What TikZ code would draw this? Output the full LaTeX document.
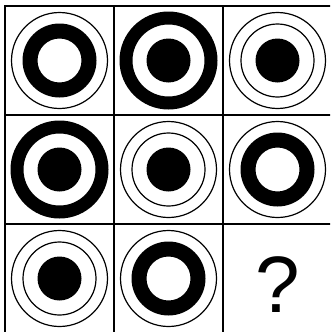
\documentclass[tikz,border=0pt]{standalone}
\usepackage{fontspec}
\setmainfont{Liberation Sans}
\usetikzlibrary{positioning}
\definecolor{inkline}{HTML}{000000}
\definecolor{inkfill}{HTML}{000000}
\tikzset{
  gridline/.style={draw=inkline, line width=1.3pt},
  thinring/.style={draw=inkline, line width=1.2pt},
  bandfill/.style={fill=inkfill, even odd rule}
}
% thin outer circle, thick band, empty centre
\newcommand{\ringcell}[3]{%
  \coordinate (#1) at (#2,#3);
  \draw[thinring] (#1) circle[radius=48pt];
  \fill[bandfill] (#1) circle[radius=37pt] (#1) circle[radius=22pt];}
% thick outer band and a centre dot
\newcommand{\bullcell}[3]{%
  \coordinate (#1) at (#2,#3);
  \fill[bandfill] (#1) circle[radius=49pt] (#1) circle[radius=36pt];
  \fill[inkfill] (#1) circle[radius=22pt];}
% two thin circles and a centre dot
\newcommand{\dotcell}[3]{%
  \coordinate (#1) at (#2,#3);
  \draw[thinring] (#1) circle[radius=48pt];
  \draw[thinring] (#1) circle[radius=36.5pt];
  \fill[inkfill] (#1) circle[radius=22pt];}

\begin{document}
\begin{tikzpicture}[x=1pt, y=-1pt]
  \useasboundingbox (0,0) rectangle (330,332);
  \clip (0,0) rectangle (330,332);
  % grid
  \draw[gridline] (5,340) -- (5,6) -- (340,6);
  \foreach \k in {114,223} {
    \draw[gridline] (\k,6) -- (\k,340);
    \draw[gridline] (5,\k+1) -- (340,\k+1);
  }
  % row 1
  \ringcell{c11}{59.5}{60.5}
  \bullcell{c12}{168.5}{60.5}
  \dotcell{c13}{277.5}{60.5}
  % row 2
  \bullcell{c21}{59.5}{169.5}
  \dotcell{c22}{168.5}{169.5}
  \ringcell{c23}{277.5}{169.5}
  % row 3
  \dotcell{c31}{59.5}{278.5}
  \ringcell{c32}{168.5}{278.5}
  \node[font=\fontsize{80}{80}\selectfont, text=inkline, inner sep=0pt]
    (c33) at (277.5,285) {?};
\end{tikzpicture}
\end{document}
